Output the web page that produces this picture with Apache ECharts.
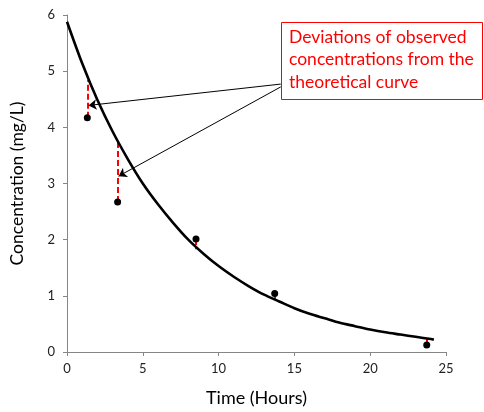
<!DOCTYPE html>
<html>
<head>
<meta charset="utf-8">
<script src="https://cdn.jsdelivr.net/npm/echarts@6/dist/echarts.min.js"></script>
<style>html,body{margin:0;padding:0;background:#fff;}#c{width:484px;height:412px;}</style>
</head>
<body>
<div id="c"></div>
<script>
// Observed data
var obsTime = [1.34, 3.34, 8.51, 13.7, 23.73];
var obsConc = [4.17, 2.67, 2.01, 1.04, 0.125];
// Theoretical curve value at each observed time (top of deviation line)
var curveAtObs = [4.84, 3.76, 1.83, 0.92, 0.23];
// Theoretical curve
var curveTime = [0, 1, 2, 3, 4, 5, 6, 7, 8, 9, 10, 11, 12, 13, 14, 15, 16, 17, 18, 19, 20, 21, 22, 23, 24, 24.2];
var curveConc = [5.88, 5.14, 4.49, 3.93, 3.44, 3.00, 2.63, 2.30, 2.00, 1.75, 1.53, 1.34, 1.17, 1.02, 0.90, 0.78, 0.68, 0.60, 0.52, 0.46, 0.40, 0.35, 0.31, 0.27, 0.23, 0.22];
// Annotation arrows (data coordinates): from callout box to deviation lines
var arrowFrom = [[14.1, 4.77], [14.1, 4.72]];
var arrowTo = [[1.42, 4.39], [3.4, 3.13]];
var calloutText = ['Deviations of observed', 'concentrations from the', 'theoretical curve'];
var xTicks = {min: 0, max: 25, interval: 5};
var yTicks = {min: 0, max: 6, interval: 1};

var FONT = 'Lato';
var chart = echarts.init(document.getElementById('c'));
var axisGray = '#868686';

var curveData = curveTime.map(function (t, i) { return [t, curveConc[i]]; });
var obsData = obsTime.map(function (t, i) { return [t, obsConc[i]]; });
var devData = obsTime.map(function (t, i) { return {coords: [[t, obsConc[i]], [t, curveAtObs[i]]]}; });
var arrowData = arrowFrom.map(function (p, i) { return {coords: [p, arrowTo[i]]}; });

chart.setOption({
  animation: false,
  textStyle: {fontFamily: FONT},
  grid: {left: 67, right: 38, top: 15, bottom: 60},
  xAxis: {
    type: 'value', min: xTicks.min, max: xTicks.max, interval: xTicks.interval,
    name: 'Time (Hours)', nameLocation: 'middle', nameGap: 37,
    nameTextStyle: {fontSize: 18, color: '#000', fontFamily: FONT},
    axisLine: {show: true, lineStyle: {color: axisGray, width: 1}},
    axisTick: {show: true, length: 4, lineStyle: {color: axisGray}},
    axisLabel: {fontSize: 13, color: '#222', margin: 10, fontFamily: FONT},
    splitLine: {show: false}
  },
  yAxis: {
    type: 'value', min: yTicks.min, max: yTicks.max, interval: yTicks.interval,
    name: 'Concentration (mg/L)', nameLocation: 'middle', nameGap: 41,
    nameTextStyle: {fontSize: 17.5, color: '#000', fontFamily: FONT},
    axisLine: {show: true, lineStyle: {color: axisGray, width: 1}},
    axisTick: {show: true, length: 4, lineStyle: {color: axisGray}},
    axisLabel: {fontSize: 13, color: '#222', margin: 12, fontFamily: FONT},
    splitLine: {show: false}
  },
  series: [
    {
      type: 'lines', coordinateSystem: 'cartesian2d', silent: true, z: 2,
      lineStyle: {color: '#ff0000', width: 2, type: [6, 3], opacity: 1},
      data: devData
    },
    {
      type: 'line', data: curveData, smooth: 0.3, showSymbol: false, z: 3,
      lineStyle: {color: '#000', width: 2.6}
    },
    {
      type: 'scatter', data: obsData, symbol: 'circle', symbolSize: 7, z: 4,
      itemStyle: {color: '#000', opacity: 1}
    },
    {
      type: 'lines', coordinateSystem: 'cartesian2d', silent: true, z: 5,
      symbol: ['none', 'arrow'], symbolSize: 8,
      lineStyle: {color: '#000', width: 1, opacity: 1},
      data: arrowData
    }
  ],
  graphic: [
    {
      type: 'rect', left: 281, top: 22, z: 10,
      shape: {width: 201, height: 77},
      style: {fill: '#fff', stroke: '#ff0000', lineWidth: 1}
    },
    {
      type: 'text', left: 289, top: 26, z: 11,
      style: {text: calloutText.join('\n'), fill: '#ff0000', font: '17.5px ' + FONT, lineHeight: 22.5}
    }
  ]
});
</script>
</body>
</html>
